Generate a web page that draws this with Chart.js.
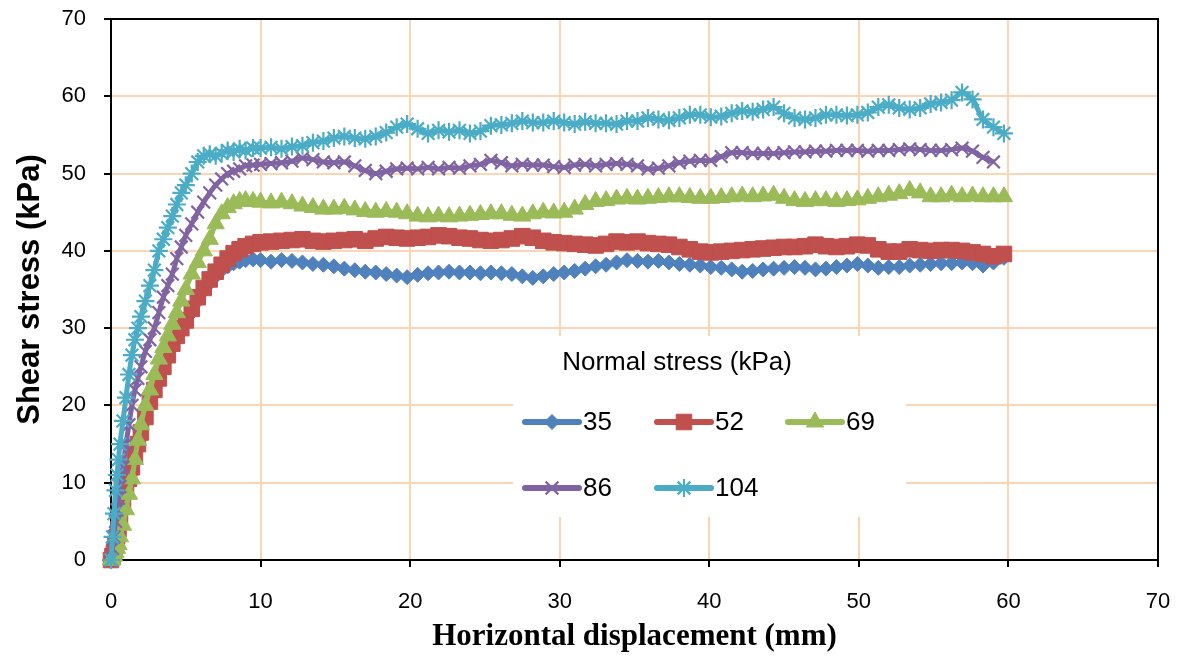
<!DOCTYPE html>
<html>
<head>
<meta charset="utf-8">
<title>Shear stress vs horizontal displacement</title>
<script src="https://cdn.jsdelivr.net/npm/chart.js@4.4.1/dist/chart.umd.min.js"></script>
<style>
  html, body { margin: 0; padding: 0; background: #fff; }
  #box { width: 1181px; height: 656px; }
</style>
</head>
<body>
<div id="box"><canvas id="shear_chart" width="1181" height="656"></canvas></div>
<script>
// Horizontal displacement (mm), shared by all the tests
const displacement = [
  0, 0.1, 0.2, 0.3, 0.4, 0.5, 0.6, 0.8, 1.0, 1.2,
  1.4, 1.6, 1.8, 2.0, 2.3, 2.6, 2.9, 3.2, 3.5, 3.8,
  4.1, 4.4, 4.7, 5.0, 5.4, 5.8, 6.2, 6.6, 7.0, 7.4,
  7.8, 8.2, 8.6, 9.0, 9.5, 10.0, 10.7, 11.4, 12.1, 12.8,
  13.5, 14.2, 14.9, 15.6, 16.3, 17.0, 17.7, 18.4, 19.1, 19.8,
  20.5, 21.2, 21.9, 22.6, 23.3, 24.0, 24.7, 25.4, 26.1, 26.8,
  27.5, 28.2, 28.9, 29.6, 30.3, 31.0, 31.7, 32.4, 33.1, 33.8,
  34.5, 35.2, 35.9, 36.6, 37.3, 38.0, 38.7, 39.4, 40.1, 40.8,
  41.5, 42.2, 42.9, 43.6, 44.3, 45.0, 45.7, 46.4, 47.1, 47.8,
  48.5, 49.2, 49.9, 50.6, 51.3, 52.0, 52.7, 53.4, 54.1, 54.8,
  55.5, 56.2, 56.9, 57.6, 58.3, 59.0, 59.7
];

// Shear stress (kPa) for each normal stress
const stress35 = [
  0, 0.5, 1, 1.8, 2.6, 3.5, 4.5, 6.5, 8.5, 10,
  11.5, 13, 14.5, 16, 18, 20, 21.5, 23, 24.5, 26,
  27.5, 28.5, 29.5, 30.5, 32, 33.5, 34.8, 35.8, 36.7, 37.5,
  38, 38.4, 38.6, 38.8, 38.9, 38.8, 38.6, 38.8, 38.7, 38.5,
  38.3, 38.2, 38, 37.7, 37.5, 37.3, 37.2, 37, 36.8, 36.6,
  36.9, 37.1, 37.2, 37.3, 37.2, 37.2, 37.1, 37.2, 37.1, 37,
  36.7, 36.5, 36.7, 37, 37.2, 37.4, 37.7, 38, 38.2, 38.5,
  38.8, 38.7, 38.6, 38.7, 38.5, 38.3, 38.2, 38.1, 37.9, 37.8,
  37.6, 37.3, 37.4, 37.6, 37.7, 37.8, 37.9, 37.8, 37.6, 37.7,
  37.9, 38.1, 38.3, 38.1, 37.8, 37.9, 37.9, 38.1, 38.2, 38.3,
  38.4, 38.4, 38.5, 38.4, 38.1, 38.5, 39.1
];
const stress52 = [
  0, 0.5, 1, 2, 3, 4, 5, 7, 9, 10.5,
  12, 13.5, 15, 16.5, 18.5, 20.5, 22, 23.5, 25, 26.5,
  28, 29, 30, 31, 32.5, 34, 35.2, 36.3, 37.3, 38.2,
  39, 39.7, 40.2, 40.6, 40.9, 41.1, 41.2, 41.3, 41.4, 41.5,
  41.3, 41.2, 41.3, 41.4, 41.5, 41.3, 41.6, 41.8, 41.7, 41.6,
  41.7, 41.8, 42, 41.9, 41.7, 41.6, 41.4, 41.3, 41.4, 41.6,
  41.9, 41.7, 41.3, 41.1, 41, 40.9, 40.8, 40.7, 40.9, 41.2,
  41.1, 41.2, 41, 40.9, 40.8, 40.5, 40.2, 39.9, 39.8, 39.9,
  40, 40.1, 40.2, 40.3, 40.4, 40.5, 40.5, 40.6, 40.8, 40.6,
  40.5, 40.6, 40.8, 40.7, 40.2, 39.9, 39.9, 40.2, 40.1, 40,
  40.1, 40.1, 40, 39.8, 39.6, 39.3, 39.6
];
const stress69 = [
  0, 0, 0.5, 1, 1.5, 2, 3, 4.5, 6.5, 8.5,
  10.5, 13, 15.5, 17.5, 20, 22, 24, 26, 27.5, 29,
  30.5, 32, 33.5, 35, 37, 38.5, 40, 41.5, 43.5, 44.8,
  45.6, 46.1, 46.4, 46.5, 46.4, 46.3, 46.2, 46.3, 46.1, 45.8,
  45.6, 45.4, 45.4, 45.5, 45.3, 45.1, 45, 45.1, 45, 44.8,
  44.5, 44.4, 44.5, 44.4, 44.5, 44.6, 44.7, 44.8, 44.8, 44.6,
  44.5, 44.8, 45, 44.9, 45, 45.4, 46, 46.4, 46.5, 46.7,
  46.8, 46.7, 46.8, 46.9, 47, 47, 46.9, 46.8, 46.8, 46.9,
  47, 47.1, 47, 47.1, 47.2, 46.8, 46.5, 46.4, 46.5, 46.5,
  46.4, 46.5, 46.6, 46.8, 47, 47.2, 47.4, 47.8, 47.5, 47,
  47, 47.2, 47, 47.1, 47, 47, 47
];
const stress86 = [
  0, 1.5, 3, 5, 6.5, 8, 9.5, 12, 15, 17.5,
  20, 22, 23.5, 25, 27, 28.5, 30, 32, 34, 35.5,
  37, 39, 40.5, 42, 43.5, 45, 46.3, 47.5, 48.5, 49.3,
  50, 50.3, 50.6, 51, 51.1, 51.2, 51.3, 51.4, 51.6, 52,
  51.8, 51.5, 51.4, 51.5, 51, 50.4, 50, 50.3, 50.6, 50.7,
  50.6, 50.8, 50.6, 50.8, 50.7, 51, 51.2, 51.7, 51.4, 51,
  51.2, 51.1, 51.1, 50.9, 50.8, 51.1, 51.2, 51, 51.2, 51.3,
  51.2, 51, 50.6, 50.7, 51, 51.4, 51.6, 51.7, 51.7, 52.2,
  52.7, 52.7, 52.6, 52.6, 52.6, 52.7, 52.8, 52.8, 52.9, 52.9,
  53, 53, 53, 52.9, 53, 53, 53.1, 53.2, 53.1, 53,
  53, 53.1, 53.3, 52.9, 52.1, 51.5
];
const stress104 = [
  0, 3, 6, 9, 11, 13, 15, 18, 21, 24,
  26.5, 28.5, 30, 31.5, 33.5, 35.5, 37.5, 40, 41.5, 43,
  44.5, 46, 47.5, 48.5, 50, 51.5, 52.3, 52.5, 52.3, 52.6,
  53, 52.8, 53.2, 53, 53.3, 53.3, 53.4, 53.2, 53.5, 53.6,
  54, 54.2, 54.6, 54.8, 54.6, 54.5, 54.8, 55.3, 56, 56.4,
  55.8, 55.2, 55.6, 55.4, 55.6, 55.2, 55.5, 56.2, 56.3, 56.5,
  56.8, 56.6, 56.6, 56.8, 56.6, 56.4, 56.7, 56.5, 56.5, 56.4,
  56.8, 56.8, 57.2, 57, 56.9, 57.2, 57.6, 57.6, 57.3, 57.4,
  57.8, 58.1, 58, 58.3, 58.6, 57.8, 57.2, 57, 57.2, 57.6,
  57.6, 57.5, 57.6, 57.9, 58.6, 58.9, 58.5, 58.3, 58.5, 59,
  59.2, 59.5, 60.5, 59.6, 57, 56, 55.2
];

const seriesNames = ['35', '52', '69', '86', '104'];
const seriesValues = [stress35, stress52, stress69, stress86, stress104];
const seriesColors = ['#4F81BD', '#C0504D', '#9BBB59', '#8064A2', '#4BACC6'];
const seriesMarkers = ['rectRot', 'rect', 'triangle', 'crossRot', 'star'];
const markerSizes = [7.5, 11, 10, 9, 9];

const xTicks = [0, 10, 20, 30, 40, 50, 60, 70];
const yTicks = [0, 10, 20, 30, 40, 50, 60, 70];

const tickFont = { family: "'Liberation Sans', Arial, sans-serif", size: 22 };
const gridColour = '#FCD5B5';

function toPoints(values) {
  return values.map((v, i) => ({ x: displacement[i], y: v }));
}

const datasets = seriesNames.map((name, i) => ({
  label: name,
  data: toPoints(seriesValues[i]),
  showLine: true,
  borderColor: seriesColors[i],
  backgroundColor: seriesColors[i],
  borderWidth: 5,
  tension: 0.3,
  pointStyle: seriesMarkers[i],
  pointRadius: markerSizes[i],
  pointBackgroundColor: seriesColors[i],
  pointBorderColor: seriesColors[i],
  pointBorderWidth: (seriesMarkers[i] === 'crossRot' || seriesMarkers[i] === 'star') ? 2.2 : 1,
  order: seriesNames.length - 1 - i, // last series painted on top, like Excel
  clip: false
}));

// frame round the plot area (top and right sides)
const plotFrame = {
  id: 'plotFrame',
  beforeDatasetsDraw(chart) {
    const { ctx, chartArea: a } = chart;
    ctx.save();
    ctx.strokeStyle = '#000';
    ctx.lineWidth = 2;
    ctx.strokeRect(a.left, a.top, a.right - a.left, a.bottom - a.top);
    ctx.restore();
  }
};

// legend box inside the plot, with its title and 3 columns
const insideLegend = {
  id: 'insideLegend',
  afterDraw(chart) {
    const ctx = chart.ctx;
    const boxLeft = 513, boxTop = 336, boxW = 393, boxH = 181;
    ctx.save();
    ctx.fillStyle = '#fff';
    ctx.fillRect(boxLeft, boxTop, boxW, boxH);

    ctx.fillStyle = '#000';
    ctx.font = "26px 'Liberation Sans', Arial, sans-serif";
    ctx.textAlign = 'center';
    ctx.textBaseline = 'middle';
    ctx.fillText('Normal stress (kPa)', 677, 363);

    const colX = [525, 657, 788];
    const rowY = [422, 488];
    ctx.textAlign = 'left';
    chart.data.datasets.forEach((ds, i) => {
      const x = colX[i % 3];
      const y = rowY[Math.floor(i / 3)];
      ctx.strokeStyle = ds.borderColor;
      ctx.lineWidth = 6;
      ctx.lineCap = 'round';
      ctx.beginPath();
      ctx.moveTo(x, y);
      ctx.lineTo(x + 54, y);
      ctx.stroke();
      ctx.lineCap = 'butt';
      ctx.fillStyle = ds.pointBackgroundColor;
      ctx.strokeStyle = ds.pointBorderColor;
      ctx.lineWidth = ds.pointBorderWidth;
      Chart.helpers.drawPoint(ctx, {
        pointStyle: ds.pointStyle,
        radius: ds.pointRadius,
        rotation: 0,
        borderWidth: ds.pointBorderWidth
      }, x + 27, y);
      ctx.fillStyle = '#000';
      ctx.font = "26px 'Liberation Sans', Arial, sans-serif";
      ctx.fillText(ds.label, x + 58, y + 1);
    });
    ctx.restore();
  }
};

const ctx = document.getElementById('shear_chart').getContext('2d');
const shearChart = new Chart(ctx, {
  type: 'scatter',
  data: { datasets: datasets },
  options: {
    responsive: false,
    animation: false,
    layout: { padding: { left: 8, top: 19, right: 23, bottom: 0 } },
    plugins: {
      legend: { display: false },
      tooltip: { enabled: false }
    },
    scales: {
      x: {
        type: 'linear',
        min: 0,
        max: 70,
        afterBuildTicks: (scale) => { scale.ticks = xTicks.map(v => ({ value: v })); },
        afterFit: (scale) => {
          scale.height = 96;
          // the tick padding should not push the plot edges inwards
          scale.paddingLeft = 0;
          scale.paddingRight = 0;
        },
        ticks: { color: '#000', font: tickFont, padding: 22, maxRotation: 0 },
        grid: { color: gridColour, lineWidth: 2, tickColor: '#000', tickLength: 7 },
        border: { color: '#000', width: 2 },
        title: {
          display: true,
          text: 'Horizontal displacement (mm)',
          color: '#000',
          font: { family: "'Liberation Serif', 'Times New Roman', serif", size: 31, weight: 'bold' },
          padding: { top: 0, bottom: 0 }
        }
      },
      y: {
        type: 'linear',
        min: 0,
        max: 70,
        afterBuildTicks: (scale) => { scale.ticks = yTicks.map(v => ({ value: v })); },
        afterFit: (scale) => {
          scale.width = 103;
          scale.paddingTop = 0;
          scale.paddingBottom = 0;
        },
        ticks: { color: '#000', font: tickFont, padding: 18 },
        grid: { color: gridColour, lineWidth: 2, tickColor: '#000', tickLength: 7 },
        border: { color: '#000', width: 2 },
        title: {
          display: true,
          text: 'Shear stress (kPa)',
          color: '#000',
          font: { family: "'Liberation Sans', Arial, sans-serif", size: 31, weight: 'bold' },
          padding: { top: 4, bottom: 0 }
        }
      }
    }
  },
  plugins: [plotFrame, insideLegend]
});
</script>
</body>
</html>
